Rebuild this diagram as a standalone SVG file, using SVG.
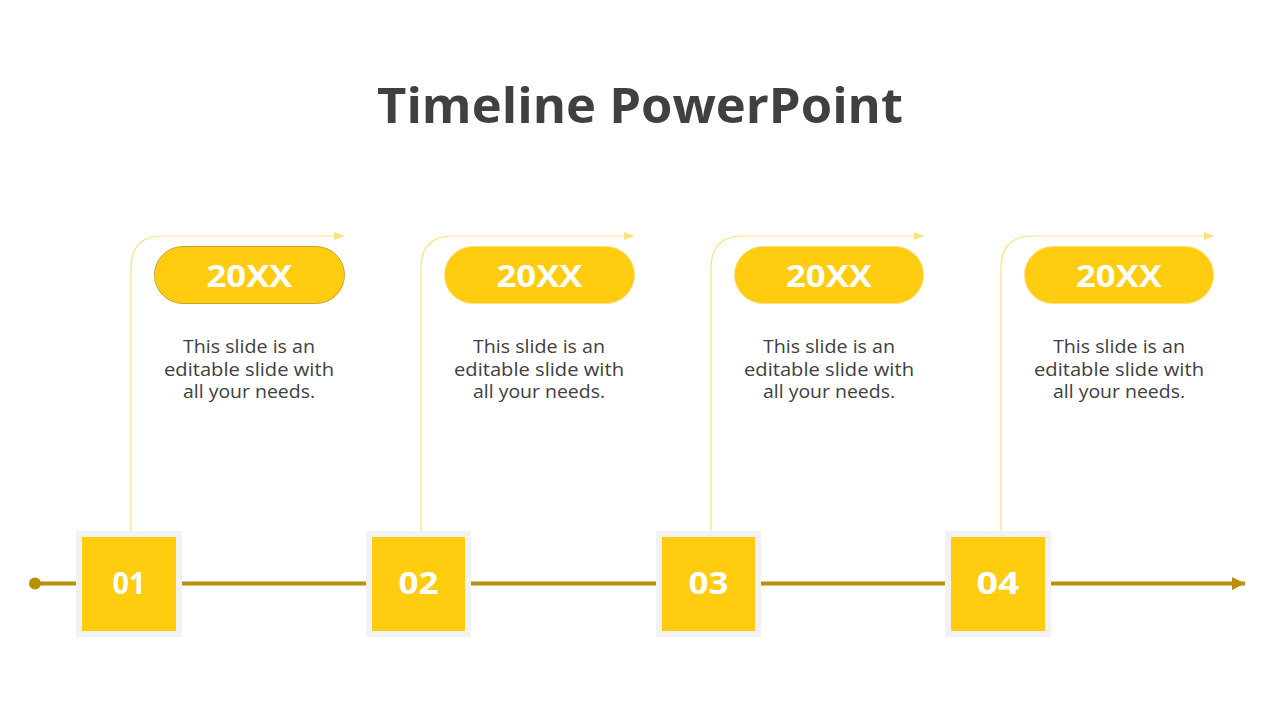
<svg xmlns="http://www.w3.org/2000/svg" width="1280" height="720" viewBox="0 0 1280 720">
<defs>
<style>
.title{font-family:"Open Sans","Liberation Sans",sans-serif;font-weight:700;font-size:48px;fill:#404040}
.pill{fill:#FFCC0F;stroke:#FFE07A;stroke-width:1}
.pilltxt{font-family:"Open Sans","Liberation Sans",sans-serif;font-weight:700;font-size:31px;fill:#FFFFFF}
.body{font-family:"Open Sans","Liberation Sans",sans-serif;font-size:18.5px;fill:#404040}
.outer{fill:#F2F2F2}
.inner{fill:#FFCC0F}
.num{font-family:"Open Sans","Liberation Sans",sans-serif;font-weight:700;font-size:31px;fill:#FFFFFF}
.conn{fill:none;stroke:#FFE07A;stroke-width:1.2}
.axis{fill:none;stroke:#B8900A;stroke-width:4}
</style>
<marker id="ah" viewBox="0 0 10 10" refX="10" refY="5" markerWidth="10" markerHeight="10" markerUnits="userSpaceOnUse" orient="auto">
<path d="M0,1 L10,5 L0,9 Z" fill="#FFE07A"/>
</marker>
<marker id="ah2" viewBox="0 0 12 12" refX="12" refY="6" markerWidth="13" markerHeight="13" markerUnits="userSpaceOnUse" orient="auto">
<path d="M0,0 L12,6 L0,12 Z" fill="#B8900A"/>
</marker>
</defs>
<rect width="1280" height="720" fill="#FFFFFF"/>
<text class="title" x="640" y="123" text-anchor="middle" textLength="526" lengthAdjust="spacingAndGlyphs">Timeline PowerPoint</text>

<g id="connectors">
<line class="axis" x1="35" y1="583.5" x2="1245" y2="583.5" marker-end="url(#ah2)"/>
<circle cx="35" cy="583.5" r="6" fill="#B8900A"/>
<path class="conn" d="M131,531 L131,268 Q131,236 163,236 L344,236" marker-end="url(#ah)"/>
<path class="conn" d="M421,531 L421,268 Q421,236 453,236 L634,236" marker-end="url(#ah)"/>
<path class="conn" d="M711,531 L711,268 Q711,236 743,236 L924,236" marker-end="url(#ah)"/>
<path class="conn" d="M1001,531 L1001,268 Q1001,236 1033,236 L1214,236" marker-end="url(#ah)"/>
</g>

<g id="node1">
<rect class="pill" x="154.5" y="246.5" width="190" height="57" rx="28.5" style="stroke:#C9A52E"/>
<text class="pilltxt" x="249.5" y="287" text-anchor="middle" textLength="86" lengthAdjust="spacingAndGlyphs">20XX</text>
<text class="body" text-anchor="middle"><tspan x="249" y="353" textLength="132" lengthAdjust="spacingAndGlyphs">This slide is an</tspan><tspan x="249" y="375.5" textLength="170" lengthAdjust="spacingAndGlyphs">editable slide with</tspan><tspan x="249" y="398" textLength="132" lengthAdjust="spacingAndGlyphs">all your needs.</tspan></text>
<rect class="outer" x="76" y="531" width="106" height="106"/>
<rect class="inner" x="82" y="537" width="94" height="94"/>
<text class="num" x="129" y="594" text-anchor="middle" textLength="33" lengthAdjust="spacingAndGlyphs">01</text>
</g>

<g id="node2">
<rect class="pill" x="444.5" y="246.5" width="190" height="57" rx="28.5"/>
<text class="pilltxt" x="539.5" y="287" text-anchor="middle" textLength="86" lengthAdjust="spacingAndGlyphs">20XX</text>
<text class="body" text-anchor="middle"><tspan x="539" y="353" textLength="132" lengthAdjust="spacingAndGlyphs">This slide is an</tspan><tspan x="539" y="375.5" textLength="170" lengthAdjust="spacingAndGlyphs">editable slide with</tspan><tspan x="539" y="398" textLength="132" lengthAdjust="spacingAndGlyphs">all your needs.</tspan></text>
<rect class="outer" x="366" y="531" width="105" height="106"/>
<rect class="inner" x="372" y="537" width="93" height="94"/>
<text class="num" x="418.5" y="594" text-anchor="middle" textLength="40" lengthAdjust="spacingAndGlyphs">02</text>
</g>

<g id="node3">
<rect class="pill" x="734.5" y="246.5" width="189" height="57" rx="28.5"/>
<text class="pilltxt" x="829" y="287" text-anchor="middle" textLength="86" lengthAdjust="spacingAndGlyphs">20XX</text>
<text class="body" text-anchor="middle"><tspan x="829" y="353" textLength="132" lengthAdjust="spacingAndGlyphs">This slide is an</tspan><tspan x="829" y="375.5" textLength="170" lengthAdjust="spacingAndGlyphs">editable slide with</tspan><tspan x="829" y="398" textLength="132" lengthAdjust="spacingAndGlyphs">all your needs.</tspan></text>
<rect class="outer" x="656" y="531" width="105" height="106"/>
<rect class="inner" x="662" y="537" width="93" height="94"/>
<text class="num" x="708.5" y="594" text-anchor="middle" textLength="40" lengthAdjust="spacingAndGlyphs">03</text>
</g>

<g id="node4">
<rect class="pill" x="1024.5" y="246.5" width="189" height="57" rx="28.5"/>
<text class="pilltxt" x="1119" y="287" text-anchor="middle" textLength="86" lengthAdjust="spacingAndGlyphs">20XX</text>
<text class="body" text-anchor="middle"><tspan x="1119" y="353" textLength="132" lengthAdjust="spacingAndGlyphs">This slide is an</tspan><tspan x="1119" y="375.5" textLength="170" lengthAdjust="spacingAndGlyphs">editable slide with</tspan><tspan x="1119" y="398" textLength="132" lengthAdjust="spacingAndGlyphs">all your needs.</tspan></text>
<rect class="outer" x="945" y="531" width="106" height="106"/>
<rect class="inner" x="951" y="537" width="94" height="94"/>
<text class="num" x="998" y="594" text-anchor="middle" textLength="43" lengthAdjust="spacingAndGlyphs">04</text>
</g>
</svg>
